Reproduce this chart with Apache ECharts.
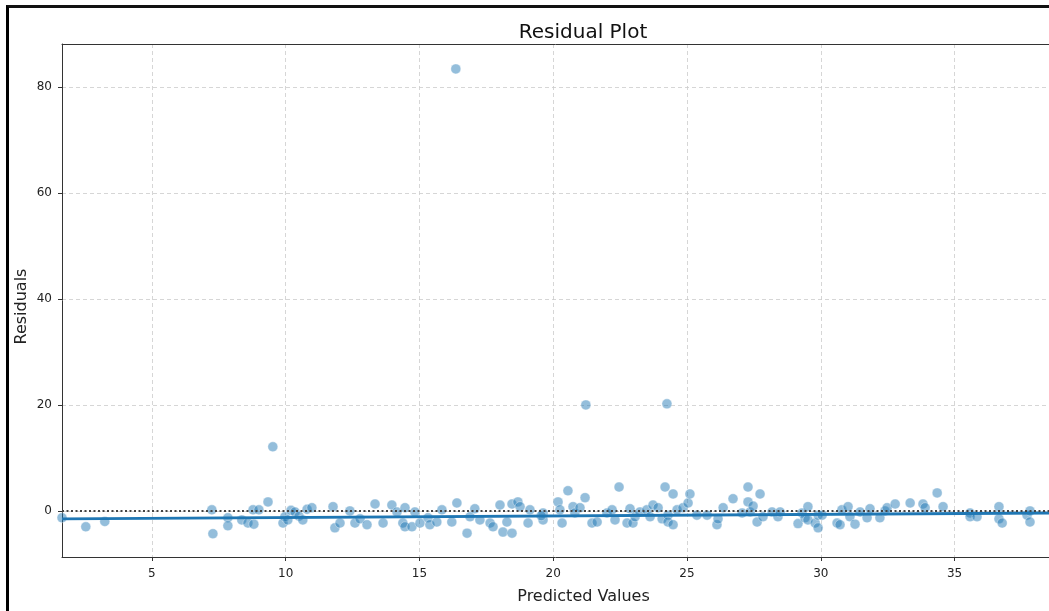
<!DOCTYPE html>
<html>

<head>
    <meta charset="utf-8">
    <title>Residual Plot</title>
    <script src="https://cdn.jsdelivr.net/npm/echarts@6/dist/echarts.min.js"></script>
</head>
<style>
    html,
    body {
        margin: 0;
        padding: 0;
        background: #fff;
    }

    #main {
        width: 1049px;
        height: 611px;
    }

    .frame {
        position: absolute;
        left: 6px;
        top: 5px;
        width: 1043px;
        height: 606px;
        border-left: 3px solid #000;
        border-top: 3px solid #111;
        pointer-events: none;
    }
</style>

<body>
    <div id="main"></div>
    <div class="frame"></div>
    <script>
        // predicted values (x) and residuals (y)
        var predicted = [
            1.64, 2.53, 3.24, 7.24, 7.28, 7.84, 7.84, 8.36, 8.59, 8.78,
            8.81, 9.0, 9.34, 9.52, 9.9, 9.97, 10.08, 10.2, 10.35, 10.5,
            10.64, 10.8, 10.98, 11.77, 11.84, 12.03, 12.4, 12.59, 12.78, 13.04,
            13.34, 13.64, 13.97, 14.16, 14.38, 14.46, 14.46, 14.72, 14.83, 15.02,
            15.32, 15.39, 15.65, 15.84, 16.21, 16.36, 16.4, 16.78, 16.89, 17.07,
            17.26, 17.64, 17.75, 18.01, 18.12, 18.27, 18.46, 18.46, 18.68, 18.76,
            19.06, 19.13, 19.62, 19.62, 19.55, 20.18, 20.25, 20.33, 20.55, 20.74,
            20.81, 21.0, 21.19, 21.22, 21.45, 21.64, 22.01, 22.2, 22.31, 22.46,
            22.76, 22.87, 22.98, 23.06, 23.24, 23.5, 23.62, 23.73, 23.92, 24.07,
            24.18, 24.25, 24.29, 24.29, 24.48, 24.48, 24.63, 24.85, 25.04, 25.11,
            25.37, 25.75, 26.12, 26.16, 26.35, 26.72, 27.06, 27.28, 27.28, 27.36,
            27.47, 27.62, 27.73, 27.84, 28.18, 28.4, 28.48, 29.15, 29.3, 29.41,
            29.52, 29.52, 29.79, 29.9, 29.9, 30.05, 30.61, 30.72, 30.79, 31.02,
            31.09, 31.28, 31.47, 31.73, 31.84, 32.21, 32.4, 32.48, 32.78, 33.34,
            33.82, 33.9, 34.35, 34.57, 35.58, 35.58, 35.84, 36.66, 36.66, 36.78,
            37.71, 37.82, 37.82
        ];
        var residuals = [
            -1.3, -3.0, -2.0, 0.2, -4.3, -1.3, -2.8, -1.7, -2.3, 0.2,
            -2.5, 0.2, 1.7, 12.1, -2.3, -1.1, -1.7, 0.1, -0.2, -1.0,
            -1.7, 0.3, 0.6, 0.8, -3.2, -2.3, 0.0, -2.3, -1.5, -2.6,
            1.3, -2.3, 1.1, -0.2, -2.3, 0.6, -3.0, -3.0, -0.2, -2.3,
            -1.3, -2.6, -2.1, 0.2, -2.1, 83.4, 1.5, -4.2, -1.1, 0.4,
            -1.7, -2.3, -3.0, 1.1, -4.0, -2.1, 1.3, -4.2, 1.7, 0.8,
            -2.3, 0.2, -1.7, -0.4, -0.9, 1.7, 0.2, -2.3, 3.8, 0.8,
            -0.4, 0.6, 2.5, 20.0, -2.3, -2.1, -0.4, 0.2, -1.7, 4.5,
            -2.3, 0.4, -2.3, -1.1, -0.2, 0.2, -1.1, 1.1, 0.6, -1.5,
            4.5, 20.2, -0.8, -2.1, 3.2, -2.6, 0.2, 0.6, 1.5, 3.2,
            -0.8, -0.8, -2.6, -1.5, 0.6, 2.3, -0.4, 4.5, 1.7, -0.2,
            0.9, -2.1, 3.2, -1.1, -0.2, -1.1, -0.2, -2.4, -0.4, -1.3,
            0.8, -1.7, -2.3, -0.8, -3.2, -0.8, -2.3, -2.6, 0.2, 0.8,
            -1.1, -2.5, -0.2, -1.3, 0.4, -1.3, 0.0, 0.6, 1.3, 1.5,
            1.3, 0.6, 3.4, 0.8, -0.4, -1.1, -1.1, 0.8, -1.5, -2.3,
            -0.8, 0.0, -2.1
        ];
        // smooth fit line ends
        var fitX = [1.64, 38.53];
        var fitY = [-1.5, -0.4];
        var xTicks = [5, 10, 15, 20, 25, 30, 35];
        var yTicks = [0, 20, 40, 60, 80];

        var points = predicted.map(function (x, i) { return [x, residuals[i]]; });
        var fit = fitX.map(function (x, i) { return [x, fitY[i]]; });

        var font = 'DejaVu Sans';
        var chart = echarts.init(document.getElementById('main'));

        var option = {
            animation: false,
            backgroundColor: '#fff',
            title: {
                text: 'Residual Plot',
                left: 578,
                top: 18,
                textAlign: 'center',
                textStyle: { fontFamily: font, fontSize: 20, fontWeight: 'normal', color: '#111' }
            },
            grid: {
                left: 62,
                right: 0,
                top: 44,
                bottom: 54
            },
            xAxis: [{
                type: 'value',
                min: 1.64,
                max: 38.53,
                name: 'Predicted Values',
                nameLocation: 'middle',
                nameGap: 32,
                // axes run past the right edge in the source, so the name sits right of centre
                nameTextStyle: { fontFamily: font, fontSize: 16, color: '#222', padding: [0, 0, 0, 56] },
                axisLine: { show: true, onZero: false, lineStyle: { color: '#333' } },
                axisTick: { show: true, length: 4, customValues: xTicks, lineStyle: { color: '#333' } },
                axisLabel: { customValues: xTicks, margin: 11, fontFamily: font, fontSize: 12, color: '#222' },
                splitLine: { show: true, lineStyle: { color: '#ccc', width: 0.8, type: [4, 3] } }
            }, {
                // top spine only
                type: 'value',
                position: 'top',
                min: 1.64,
                max: 38.53,
                axisLine: { show: true, onZero: false, lineStyle: { color: '#333' } },
                axisTick: { show: false },
                axisLabel: { show: false },
                splitLine: { show: false }
            }],
            yAxis: {
                type: 'value',
                min: -8.7,
                max: 88.1,
                name: 'Residuals',
                nameLocation: 'middle',
                nameGap: 32,
                nameMoveOverlap: false,
                nameTextStyle: { fontFamily: font, fontSize: 16, color: '#222', padding: [0, 12, 0, 0] },
                axisLine: { show: true, onZero: false, lineStyle: { color: '#333' } },
                axisTick: { show: true, length: 4, customValues: yTicks, lineStyle: { color: '#333' } },
                axisLabel: { customValues: yTicks, margin: 10, fontFamily: font, fontSize: 12, color: '#222' },
                splitLine: { show: true, lineStyle: { color: '#ccc', width: 0.8, type: [4, 3] } }
            },
            series: [
                {
                    type: 'scatter',
                    data: points,
                    symbolSize: 10,
                    itemStyle: {
                        color: 'rgba(31,119,180,0.6)',
                        borderColor: 'rgba(255,255,255,0.6)',
                        borderWidth: 0.8
                    },
                    markLine: {
                        silent: true,
                        symbol: 'none',
                        label: { show: false },
                        lineStyle: { color: '#444', width: 1.8, type: [2, 2.5] },
                        data: [{ yAxis: 0 }]
                    }
                },
                {
                    type: 'line',
                    data: fit,
                    z: 3,
                    symbol: 'none',
                    lineStyle: { color: '#1f77b4', width: 2.8 }
                }
            ]
        };

        chart.setOption(option);
    </script>
</body>

</html>
